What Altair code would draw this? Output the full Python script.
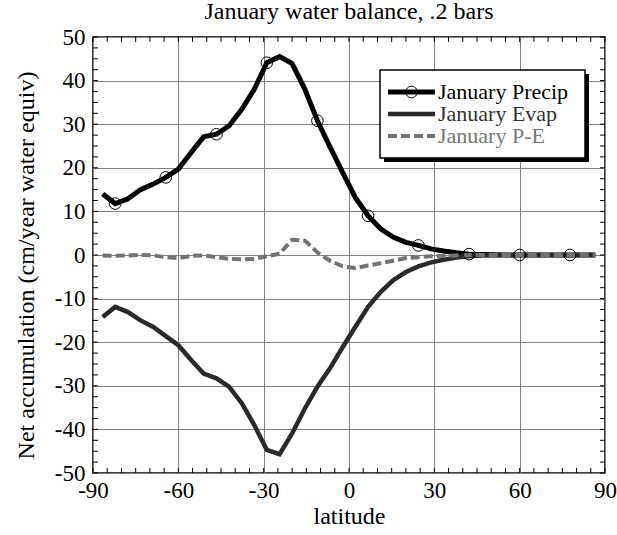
import altair as alt
import pandas as pd

FONT = "Liberation Serif"

# ---- data ----
latitude = [-86.6, -82.2, -77.7, -73.3, -68.8, -64.4, -60.0, -55.5, -51.1, -46.6,
            -42.2, -37.7, -33.3, -28.9, -24.4, -20.0, -15.5, -11.1, -6.7, -2.2,
            2.2, 6.7, 11.1, 15.5, 20.0, 24.4, 28.9, 33.3, 37.7, 42.2,
            46.6, 51.1, 55.5, 60.0, 64.4, 68.8, 73.3, 77.7, 82.2, 86.6]

precip = [14.0, 11.8, 12.9, 15.0, 16.3, 17.8, 19.7, 23.5, 27.1, 27.7,
          29.6, 33.4, 38.0, 44.1, 45.5, 43.9, 38.0, 30.8, 24.8, 18.9,
          13.2, 9.0, 6.0, 4.1, 2.9, 2.2, 1.4, 0.9, 0.5, 0.2,
          0.1, 0.05, 0.0, 0.0, 0.0, 0.0, 0.0, 0.0, 0.0, 0.0]

evap = [-14.2, -11.9, -13.1, -15.0, -16.5, -18.6, -20.7, -24.1, -27.2, -28.3,
        -30.2, -34.0, -39.0, -44.7, -45.7, -40.9, -35.2, -30.2, -26.0, -21.1,
        -16.5, -11.9, -8.5, -5.8, -3.9, -2.6, -1.7, -1.1, -0.6, -0.3,
        -0.1, -0.05, 0.0, 0.0, 0.0, 0.0, 0.0, 0.0, 0.0, 0.0]

p_minus_e = [-0.1, -0.2, -0.1, 0.0, -0.1, -0.5, -0.7, -0.2, -0.1, -0.5,
             -0.9, -1.0, -0.9, -0.3, 0.3, 3.5, 3.3, 0.6, -1.3, -2.6,
             -3.0, -2.4, -1.9, -1.3, -0.7, -0.5, -0.3, -0.2, -0.1, 0.0,
             0.0, 0.0, 0.0, 0.0, 0.0, 0.0, 0.0, 0.0, 0.0, 0.0]

# every 4th precip point carries an open-circle marker
marker_index = [1, 5, 9, 13, 17, 21, 25, 29, 33, 37]

x_label_values = [-90, -60, -30, 0, 30, 60, 90]
y_grid_values = [-50, -45, -40, -35, -30, -25, -20, -15, -10, -5, 0,
                 5, 10, 15, 20, 25, 30, 35, 40, 45, 50]
x_minor_ticks = [-90, -85, -80, -75, -70, -65, -60, -55, -50, -45, -40, -35, -30,
                 -25, -20, -15, -10, -5, 0, 5, 10, 15, 20, 25, 30, 35, 40, 45,
                 50, 55, 60, 65, 70, 75, 80, 85, 90]
y_minor_ticks = [-50, -47.5, -45, -42.5, -40, -37.5, -35, -32.5, -30, -27.5, -25,
                 -22.5, -20, -17.5, -15, -12.5, -10, -7.5, -5, -2.5, 0, 2.5, 5,
                 7.5, 10, 12.5, 15, 17.5, 20, 22.5, 25, 27.5, 30, 32.5, 35, 37.5,
                 40, 42.5, 45, 47.5, 50]

series_names = ["January Precip", "January Evap", "January P-E"]

# ---- layout ----
W, H = 512, 436
TICK = 5

df_p = pd.DataFrame({"lat": latitude, "value": precip})
df_e = pd.DataFrame({"lat": latitude, "value": evap})
df_pe = pd.DataFrame({"lat": latitude, "value": p_minus_e})
df_m = df_p.iloc[marker_index].reset_index(drop=True)

xscale = alt.Scale(domain=[-90, 90], nice=False, zero=False)
yscale = alt.Scale(domain=[-50, 50], nice=False, zero=False)

xaxis = alt.Axis(
    values=x_label_values, grid=True, gridColor="#808080", gridWidth=1,
    ticks=False, domain=False, labelFont=FONT, labelFontSize=23,
    labelColor="black", labelPadding=6, labelFlush=False,
    labelExpr="'' + datum.value",
    title="latitude", titleFont=FONT, titleFontSize=24, titleFontWeight="normal",
    titleColor="black", titleY=43, titleBaseline="middle",
)
yaxis = alt.Axis(
    values=y_grid_values, grid=True, gridColor="#808080", gridWidth=1,
    ticks=False, domain=False, labelFont=FONT, labelFontSize=23,
    labelColor="black", labelPadding=8, labelFlush=False,
    labelExpr="datum.value % 10 === 0 ? '' + datum.value : ''",
    title="Net accumulation (cm/year water equiv)", titleFont=FONT,
    titleFontSize=24, titleFontWeight="normal", titleColor="black",
    titleAngle=270, titleX=-67, titleY=H / 2 + 10, titleBaseline="middle",
    titleAlign="center",
)

precip_line = alt.Chart(df_p).mark_line(color="black", strokeWidth=5).encode(
    x=alt.X("lat:Q", scale=xscale, axis=xaxis),
    y=alt.Y("value:Q", scale=yscale, axis=yaxis),
)
evap_line = alt.Chart(df_e).mark_line(color="#2a2a2a", strokeWidth=4.5).encode(
    x=alt.X("lat:Q", scale=xscale), y=alt.Y("value:Q", scale=yscale))
pe_line = alt.Chart(df_pe).mark_line(
    color="#737373", strokeWidth=4, strokeDash=[9, 4]).encode(
    x=alt.X("lat:Q", scale=xscale), y=alt.Y("value:Q", scale=yscale))
markers = alt.Chart(df_m).mark_point(
    shape="circle", size=135, filled=False, color="black", strokeWidth=1,
    opacity=1).encode(
    x=alt.X("lat:Q", scale=xscale), y=alt.Y("value:Q", scale=yscale))

# inward ticks on all four sides
dfx = pd.DataFrame({"t": x_minor_ticks})
dfy = pd.DataFrame({"t": y_minor_ticks})
tick_style = dict(color="black", strokeWidth=1)
bottom_ticks = alt.Chart(dfx).mark_rule(**tick_style).encode(
    x=alt.X("t:Q", scale=xscale), y=alt.value(H), y2=alt.value(H - TICK))
top_ticks = alt.Chart(dfx).mark_rule(**tick_style).encode(
    x=alt.X("t:Q", scale=xscale), y=alt.value(0), y2=alt.value(TICK))
left_ticks = alt.Chart(dfy).mark_rule(**tick_style).encode(
    y=alt.Y("t:Q", scale=yscale), x=alt.value(0), x2=alt.value(TICK))
right_ticks = alt.Chart(dfy).mark_rule(**tick_style).encode(
    y=alt.Y("t:Q", scale=yscale), x=alt.value(W), x2=alt.value(W - TICK))

# ---- legend box (drawn by hand to reproduce the framed, shadowed legend) ----
LX0, LX1, LY0, LY1 = 287, 492, 33, 121
one = pd.DataFrame({"k": [0]})
shadow = alt.Chart(one).mark_rect(color="black").encode(
    x=alt.value(LX0 + 4), x2=alt.value(LX1 + 4),
    y=alt.value(LY0 + 4), y2=alt.value(LY1 + 4))
box = alt.Chart(one).mark_rect(fill="white", stroke="black", strokeWidth=1.5).encode(
    x=alt.value(LX0), x2=alt.value(LX1), y=alt.value(LY0), y2=alt.value(LY1))

rows_y = [55, 77, 99]
SX0, SX1, TX = 295, 342, 345
leg_p = alt.Chart(one).mark_rule(color="black", strokeWidth=5).encode(
    x=alt.value(SX0), x2=alt.value(SX1), y=alt.value(rows_y[0]))
leg_pm = alt.Chart(one).mark_point(
    shape="circle", size=135, filled=False, color="black", strokeWidth=1,
    opacity=1).encode(x=alt.value((SX0 + SX1) / 2), y=alt.value(rows_y[0]))
leg_e = alt.Chart(one).mark_rule(color="#2a2a2a", strokeWidth=4.5).encode(
    x=alt.value(SX0), x2=alt.value(SX1), y=alt.value(rows_y[1]))
leg_pe = alt.Chart(one).mark_rule(color="#737373", strokeWidth=4,
                                  strokeDash=[9, 4]).encode(
    x=alt.value(SX0), x2=alt.value(SX1), y=alt.value(rows_y[2]))
text_colors = ["black", "#333333", "#777777"]
leg_texts = [
    alt.Chart(one).mark_text(
        align="left", baseline="middle", font=FONT, fontSize=22,
        color=text_colors[i], text=series_names[i]).encode(
        x=alt.value(TX), y=alt.value(rows_y[i]))
    for i in range(3)
]

chart = alt.layer(
    bottom_ticks, top_ticks, left_ticks, right_ticks,
    precip_line, evap_line, pe_line, markers,
    shadow, box, leg_p, leg_pm, leg_e, leg_pe, *leg_texts,
).properties(
    width=W, height=H,
    title=alt.TitleParams(
        "January water balance, .2 bars", font=FONT, fontSize=24,
        fontWeight="normal", color="black", anchor="middle", offset=4,
        dy=21, baseline="alphabetic"),
    autosize=alt.AutoSizeParams(type="none"),
    padding={"left": 93, "top": 37, "right": 12, "bottom": 62},
    background="white",
).configure_view(
    stroke="black", strokeWidth=1.5,
).configure_axis(
    labelFont=FONT, titleFont=FONT,
).configure_title(
    font=FONT,
)

chart.save("out.html", embed_options={"renderer": "svg", "actions": False})
